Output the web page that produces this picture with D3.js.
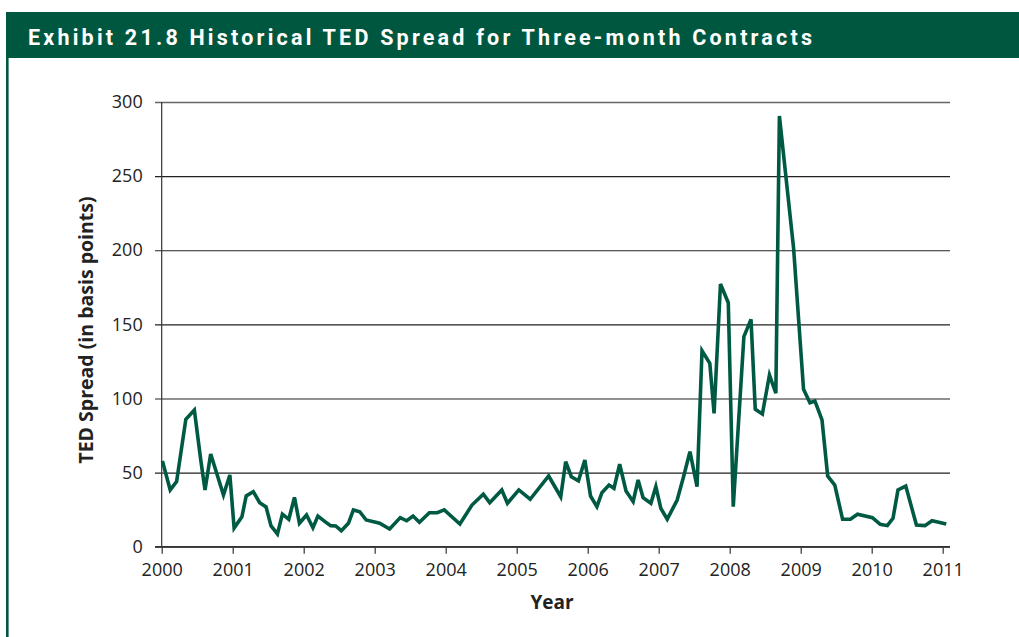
<!DOCTYPE html>
<html>
<head>
<meta charset="utf-8">
<script src="https://cdn.jsdelivr.net/npm/d3@7"></script>
<style>
  html, body { margin: 0; padding: 0; background: #fff; }
  svg { display: block; }
</style>
</head>
<body>
<svg id="chart" width="1019" height="637"></svg>
<script>
// ---- Data ----
const title = "Exhibit 21.8 Historical TED Spread for Three-month Contracts";
const xLabel = "Year";
const yLabel = "TED Spread (in basis points)";
const yearTicks = [2000, 2001, 2002, 2003, 2004, 2005, 2006, 2007, 2008, 2009, 2010, 2011];
const valueTicks = [0, 50, 100, 150, 200, 250, 300];

const dates = [
  2000.01, 2000.12, 2000.21, 2000.34, 2000.46, 2000.55, 2000.61, 2000.69, 2000.87, 2000.96,
  2001.02, 2001.13, 2001.19, 2001.29, 2001.38, 2001.47, 2001.54, 2001.63, 2001.70, 2001.79, 2001.87, 2001.94,
  2002.04, 2002.13, 2002.20, 2002.30, 2002.38, 2002.45, 2002.53, 2002.63, 2002.70, 2002.79, 2002.88,
  2003.07, 2003.21, 2003.36, 2003.45, 2003.54, 2003.63, 2003.77, 2003.88, 2003.98,
  2004.20, 2004.37, 2004.53, 2004.62, 2004.79, 2004.87,
  2005.03, 2005.19, 2005.45, 2005.62, 2005.69, 2005.77, 2005.87, 2005.96,
  2006.04, 2006.13, 2006.20, 2006.30, 2006.37, 2006.45, 2006.54, 2006.64, 2006.71, 2006.78, 2006.89, 2006.96,
  2007.03, 2007.12, 2007.26, 2007.35, 2007.44, 2007.54, 2007.61, 2007.72, 2007.78, 2007.87, 2007.98,
  2008.05, 2008.20, 2008.30, 2008.36, 2008.46, 2008.56, 2008.65, 2008.70, 2008.90,
  2009.04, 2009.13, 2009.20, 2009.30, 2009.38, 2009.48, 2009.59, 2009.70, 2009.80,
  2010.01, 2010.12, 2010.22, 2010.30, 2010.37, 2010.48, 2010.63, 2010.75, 2010.85, 2011.05
];
const spread = [
  57.8, 38.3, 43.9, 86, 92.2, 58.5, 38.3, 62.5, 34.9, 48.4,
  12.6, 20.2, 34.2, 37.1, 29.7, 26.8, 14, 8.6, 22, 18.5, 33.3, 15.8,
  21.4, 12.8, 20.7, 16.9, 14.2, 14, 10.8, 15.8, 24.8, 23.6, 18,
  15.8, 11.9, 19.6, 17.5, 20.7, 16.5, 22.9, 22.9, 24.8,
  15.3, 28.1, 35.4, 29.7, 38.3, 29.3,
  38.3, 32, 47.7, 33.7, 57.3, 47.2, 44.5, 58.5,
  34.2, 27, 36.4, 41.6, 39.4, 55.6, 37.6, 30.4, 45, 33.1, 29.3, 40.5,
  25.9, 18.5, 31.5, 47.2, 64.1, 40.5, 132.2, 123.7, 90, 177.2, 164.6,
  27, 141.7, 153.4, 92.7, 89.5, 115.8, 103.5, 290.6, 201.3,
  106.2, 97.1, 98.3, 85.5, 47.7, 41.6, 18.5, 18.5, 21.9,
  19.6, 15.1, 14.2, 19.2, 38.3, 40.9, 14.6, 14.2, 17.5, 15.3
];

// ---- Styling / layout ----
const GREEN = "#00573f";
const LINE_GREEN = "#005a43";
const TICK_FONT = "'Open Sans', 'Liberation Sans', sans-serif";

const svg = d3.select("#chart");

// Header bar
svg.append("rect").attr("x", 6).attr("y", 12).attr("width", 1013).attr("height", 46).attr("fill", GREEN);
// Left border
svg.append("rect").attr("x", 6).attr("y", 58).attr("width", 2.6).attr("height", 579).attr("fill", GREEN);

svg.append("text")
  .attr("x", 28).attr("y", 44.5)
  .attr("fill", "#fff")
  .attr("font-family", "'Liberation Sans Narrow', 'Arial Narrow', Roboto, sans-serif")
  .attr("font-weight", "bold")
  .attr("font-size", 21.5)
  .attr("textLength", 784)
  .attr("lengthAdjust", "spacing")
  .text(title);

// Scales
const x = d3.scaleLinear().domain([2000, 2011]).range([161.7, 942.7]);
const y = d3.scaleLinear().domain([0, 300]).range([546.7, 102]);
const gridLeft = 155, gridRight = 950;

// Y axis with gridlines
const yAxis = svg.append("g")
  .attr("transform", `translate(${x(2000)},0)`)
  .call(d3.axisLeft(y).tickValues(valueTicks)
    .tickSizeInner(-(gridRight - x(2000))).tickSizeOuter(0).tickPadding(19));
yAxis.select(".domain").remove();
yAxis.selectAll(".tick line")
  .attr("x1", gridLeft - x(2000))
  .attr("stroke", d => d === 300 ? "#666" : "#222")
  .attr("stroke-width", d => d === 300 ? 1.6 : 1.1);
yAxis.selectAll(".tick text")
  .attr("font-family", TICK_FONT).attr("font-size", 18).attr("fill", "#222");

// Vertical axis line
svg.append("line")
  .attr("x1", x(2000)).attr("x2", x(2000))
  .attr("y1", y(300)).attr("y2", y(0))
  .attr("stroke", "#333").attr("stroke-width", 1.2);

// X axis
const xAxis = svg.append("g")
  .attr("transform", `translate(0,${y(0)})`)
  .call(d3.axisBottom(x).tickValues(yearTicks).tickFormat(d3.format("d"))
    .tickSizeInner(7).tickSizeOuter(0).tickPadding(10));
xAxis.select(".domain").remove();
xAxis.selectAll(".tick line").attr("stroke", "#333").attr("stroke-width", 1.2);
xAxis.selectAll(".tick text")
  .attr("font-family", TICK_FONT).attr("font-size", 18).attr("fill", "#222");
svg.append("line")
  .attr("x1", gridLeft).attr("x2", gridRight)
  .attr("y1", y(0)).attr("y2", y(0))
  .attr("stroke", "#333").attr("stroke-width", 1.4);

// Axis titles
svg.append("text")
  .attr("x", 552).attr("y", 609)
  .attr("text-anchor", "middle")
  .attr("font-family", TICK_FONT).attr("font-weight", "bold").attr("font-size", 19)
  .attr("fill", "#222")
  .text(xLabel);

svg.append("text")
  .attr("transform", "translate(93,330) rotate(-90)")
  .attr("text-anchor", "middle")
  .attr("font-family", TICK_FONT).attr("font-weight", "bold").attr("font-size", 19.5)
  .attr("fill", "#222")
  .text(yLabel);

// Line
const data = dates.map((d, i) => ({ t: d, v: spread[i] }));
svg.append("path")
  .datum(data)
  .attr("fill", "none")
  .attr("stroke", LINE_GREEN)
  .attr("stroke-width", 3.6)
  .attr("stroke-linejoin", "miter")
  .attr("stroke-miterlimit", 4)
  .attr("d", d3.line().x(d => x(d.t)).y(d => y(d.v)));
</script>
</body>
</html>
